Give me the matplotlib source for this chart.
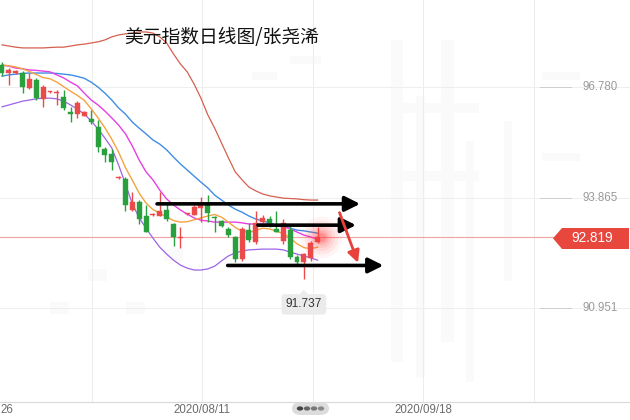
import matplotlib
matplotlib.use('Agg')
import matplotlib.pyplot as plt
from matplotlib.patches import Polygon, FancyBboxPatch, Rectangle
import numpy as np

plt.rcParams['font.family'] = ['Noto Sans CJK SC', 'DejaVu Sans']

# ---------------- data ----------------
opens  = [97.35, 97.15, 97.15, 97.15, 96.75, 96.96, 96.47, 96.64, 96.62, 96.52,
          96.12, 96.05, 96.02, 95.94, 95.73, 95.13, 95.02, 94.37, 94.36, 93.55,
          93.76, 93.37, 93.40, 93.39, 93.55, 93.16, 92.80, 93.43, 93.42, 93.60,
          93.68, 93.35, 93.24, 93.03, 92.82, 92.24, 93.00, 92.69, 93.22, 93.29,
          93.05, 92.72, 93.02, 92.30, 92.16, 92.27, 92.70]
closes = [97.15, 97.23, 97.20, 96.78, 96.99, 96.49, 96.78, 96.66, 96.63, 96.23,
          96.07, 96.36, 96.12, 95.84, 95.20, 94.99, 94.81, 94.40, 93.68, 93.76,
          93.29, 92.97, 93.42, 93.52, 93.29, 92.84, 92.84, 93.45, 93.63, 93.73,
          93.47, 93.33, 93.11, 92.87, 92.24, 93.05, 92.74, 93.20, 93.32, 93.15,
          92.97, 93.20, 92.30, 92.18, 92.37, 92.68, 92.819]
highs  = [97.42, 97.26, 97.22, 97.20, 97.15, 97.00, 96.82, 96.68, 96.70, 96.70,
          96.25, 96.41, 96.15, 96.18, 95.91, 95.20, 95.13, 94.42, 94.40, 94.02,
          93.80, 93.68, 93.45, 94.02, 93.76, 93.20, 93.10, 93.47, 93.66, 93.89,
          93.94, 93.37, 93.27, 93.08, 92.85, 93.10, 93.20, 93.50, 93.40, 93.39,
          93.50, 93.30, 93.15, 92.35, 92.40, 92.72, 93.08]
lows   = [97.05, 96.83, 97.12, 96.62, 96.72, 96.44, 96.25, 96.62, 96.30, 96.18,
          95.84, 95.97, 96.00, 95.80, 95.07, 94.81, 94.60, 94.36, 93.50, 93.50,
          93.16, 92.95, 93.38, 93.37, 93.24, 92.58, 92.55, 93.42, 93.40, 93.21,
          93.21, 92.95, 93.08, 92.84, 92.18, 92.20, 92.70, 92.65, 93.20, 93.10,
          92.95, 92.65, 92.25, 92.10, 91.737, 92.20, 92.68]

ma5 = [97.35, 97.33, 97.30, 97.25, 97.18, 97.10, 97.02, 96.99, 96.90, 96.78,
       96.66, 96.55, 96.42, 96.20, 95.96, 95.70, 95.40, 95.06, 94.65, 94.32,
       93.98, 93.72, 93.55, 93.45, 93.36, 93.26, 93.22, 93.23, 93.28, 93.33,
       93.38, 93.42, 93.35, 93.22, 93.08, 92.98, 92.95, 93.00, 93.06, 93.04,
       92.98, 92.92, 92.80, 92.65, 92.55, 92.52, 92.56]
ma10 = [97.35, 97.32, 97.27, 97.25, 97.22, 97.21, 97.19, 97.17, 97.09, 97.01,
        96.90, 96.80, 96.61, 96.43, 96.30, 96.14, 95.96, 95.77, 95.54, 95.22,
        94.85, 94.54, 94.33, 94.06, 93.83, 93.67, 93.54, 93.43, 93.33, 93.27,
        93.25, 93.22, 93.22, 93.22, 93.22, 93.20, 93.17, 93.17, 93.17, 93.17,
        93.14, 93.12, 93.04, 92.96, 92.88, 92.83, 92.77]
mid20 = [97.06, 97.09, 97.11, 97.13, 97.14, 97.14, 97.14, 97.14, 97.13, 97.11,
         97.09, 97.05, 97.00, 96.90, 96.77, 96.61, 96.43, 96.22, 96.06, 95.85,
         95.69, 95.54, 95.38, 95.27, 95.12, 94.93, 94.75, 94.59, 94.43, 94.27,
         94.12, 93.93, 93.80, 93.67, 93.56, 93.48, 93.38, 93.30, 93.25, 93.20,
         93.14, 93.09, 93.06, 93.01, 92.99, 92.96, 92.93]
upper = [97.88, 97.85, 97.82, 97.80, 97.80, 97.80, 97.80, 97.81, 97.82, 97.82,
         97.85, 97.88, 97.90, 97.93, 97.96, 98.01, 98.09, 98.14, 98.17, 98.19,
         98.22, 98.22, 98.19, 98.09, 97.93, 97.64, 97.38, 97.17, 96.85, 96.48,
         96.04, 95.69, 95.30, 94.91, 94.54, 94.33, 94.14, 94.04, 93.96, 93.91,
         93.88, 93.85, 93.84, 93.83, 93.81, 93.80, 93.80]
lower = [96.25, 96.30, 96.35, 96.40, 96.43, 96.46, 96.48, 96.48, 96.46, 96.40,
         96.30, 96.19, 96.06, 95.88, 95.67, 95.43, 95.17, 94.72, 94.22, 93.70,
         93.33, 93.06, 92.80, 92.56, 92.38, 92.22, 92.09, 92.01, 91.96, 91.96,
         91.99, 92.06, 92.20, 92.33, 92.41, 92.46, 92.49, 92.50, 92.51, 92.51,
         92.51, 92.49, 92.43, 92.38, 92.33, 92.28, 92.22]

price_levels = [96.780, 93.865, 90.951]
last_price = 92.819
low_price = 91.737
low_index = 44

# first label is cut by the left edge in the original: only "26" shows
date_pos = [-0.2, 29.15, 61.4]
date_labels = ['26', '2020/08/11', '2020/09/18']
vgrid_pos = [-3, 13.1, 29.15, 45.3, 61.4, 77.5]

title = '美元指数日线图/张尧浠'

# annotation arrows (index, price)
black_arrows = [((22.6, 93.70), (52.2, 93.70)),
                ((37.3, 93.14), (51.6, 93.14)),
                ((32.9, 92.08), (55.6, 92.08))]
red_arrow = ((49.2, 93.47), (51.9, 92.15))

# ---------------- figure ----------------
W, H = 630, 420
fig = plt.figure(figsize=(W / 100, H / 100), dpi=100)
fig.patch.set_facecolor('white')
ax = fig.add_axes([0, 1 - 402 / H, 1, 402 / H])
ax.set_facecolor('white')
ax.set_xlim(-0.2915, 91.545)
ax.set_ylim(88.49, 99.06)
for s in ['top', 'left', 'right']:
    ax.spines[s].set_visible(False)
ax.spines['bottom'].set_color('#d9d9d9')
ax.spines['bottom'].set_linewidth(0.8)
ax.set_xticks([])
ax.set_yticks([])

# faint watermark blocks (background texture)
wm = [(0.62, 0.10, 0.02, 0.80), (0.66, 0.06, 0.015, 0.70), (0.70, 0.15, 0.02, 0.75),
      (0.74, 0.05, 0.012, 0.60), (0.64, 0.55, 0.12, 0.025), (0.64, 0.72, 0.12, 0.025),
      (0.86, 0.60, 0.06, 0.02), (0.86, 0.80, 0.06, 0.02), (0.40, 0.80, 0.04, 0.02),
      (0.46, 0.84, 0.05, 0.02), (0.08, 0.22, 0.03, 0.03), (0.14, 0.30, 0.03, 0.03),
      (0.20, 0.22, 0.03, 0.03), (0.26, 0.35, 0.03, 0.03), (0.80, 0.30, 0.012, 0.40)]
for (rx, ry, rw, rh) in wm:
    ax.add_patch(Rectangle((rx, ry), rw, rh, transform=ax.transAxes,
                           fc='#fafafa', ec='none', zorder=0))

# grid
for xv in vgrid_pos:
    ax.axvline(xv, color='#ececec', lw=0.7, zorder=0.5)
for lv in price_levels:
    ax.axhline(lv, color='#eeeeee', lw=0.7, zorder=0.5)
    ax.plot([78.4, 83.0], [lv, lv], color='#cfcfcf', lw=0.7, zorder=1)
    ax.text(0.924, lv, f'{lv:.3f}', transform=ax.get_yaxis_transform(),
            ha='left', va='center', fontsize=8.3, color='#9a9a9a',
            family=['Liberation Sans', 'DejaVu Sans'])

# current price line
ax.plot([-1, 80.3], [last_price, last_price], color='#f2a3a3', lw=0.8, zorder=1)

# indicator lines
x = np.arange(len(closes))
ax.plot(x, upper, color='#d4604e', lw=0.9, zorder=2)
ax.plot(x, lower, color='#9e63e6', lw=0.9, zorder=2)
ax.plot(x, mid20, color='#3f8de6', lw=1.0, zorder=2)
ax.plot(x, ma10, color='#e63fe3', lw=1.0, zorder=2)
ax.plot(x, ma5, color='#f4a340', lw=1.0, zorder=2)

# candles
up_c, dn_c = '#eb4a4a', '#2a9f3e'
bw = 0.72
for i in range(len(closes)):
    o, c, h, l = opens[i], closes[i], highs[i], lows[i]
    col = up_c if c >= o else dn_c
    ax.plot([i, i], [l, h], color=col, lw=1.0, zorder=3, solid_capstyle='butt')
    bot, top = min(o, c), max(o, c)
    ax.bar(i, max(top - bot, 0.03), bottom=bot, width=bw, color=col,
           edgecolor=col, linewidth=0.3, zorder=4)

# glow at last price
for s_, a_ in [(900, 0.05), (600, 0.07), (380, 0.09), (220, 0.12), (110, 0.16), (45, 0.25)]:
    ax.scatter([len(closes) - 1 + 0.5], [last_price], s=s_, color='#ff3b3b',
               alpha=a_, lw=0, zorder=5)

# arrows
for (x0, y0), (x1, y1) in black_arrows:
    ax.annotate('', xy=(x1, y1), xytext=(x0, y0),
                arrowprops=dict(arrowstyle='-|>,head_length=0.9,head_width=0.45',
                                lw=2.6, color='black', shrinkA=0, shrinkB=0,
                                mutation_scale=10), zorder=6)
ax.annotate('', xy=red_arrow[1], xytext=red_arrow[0],
            arrowprops=dict(arrowstyle='-|>,head_length=0.8,head_width=0.4',
                            lw=2.0, color='#e8403a', shrinkA=0, shrinkB=0,
                            mutation_scale=9), zorder=6)

# low label
ax.annotate(f'{low_price:.3f}', xy=(low_index, low_price - 0.3),
            xytext=(low_index, low_price - 0.68), ha='center', va='center',
            fontsize=8.6, color='#333333', family=['Liberation Sans', 'DejaVu Sans'],
            bbox=dict(boxstyle='round,pad=0.35,rounding_size=0.25', fc='#ebebeb', ec='none'),
            arrowprops=dict(arrowstyle='wedge,tail_width=0.7', fc='#ebebeb', ec='none',
                            shrinkA=0, shrinkB=0), zorder=7)

# price tag on the right
tag = Polygon([[553 / W, 1 - 238.3 / H], [562 / W, 1 - 228 / H], [629 / W, 1 - 228 / H],
               [629 / W, 1 - 249 / H], [562 / W, 1 - 249 / H]],
              closed=True, transform=fig.transFigure, fc='#e8473e', ec='none', zorder=8)
fig.patches.append(tag)
fig.text(592 / W, 1 - 238.5 / H, f'{last_price:.3f}', ha='center', va='center',
         fontsize=9.8, color='white', family=['Liberation Sans', 'DejaVu Sans'],
         zorder=10)

# date labels
for k, (p, lab) in enumerate(zip(date_pos, date_labels)):
    px = 2 + 6.86 * p
    fig.text(px / W, 1 - 410 / H, lab, ha='left' if k == 0 else 'center', va='center',
             fontsize=8.3, color='#6b6b6b', family=['Liberation Sans', 'DejaVu Sans'])

# scroll indicator
pill = FancyBboxPatch((292 / W, 1 - 415 / H), 37 / W, 13 / H,
                      boxstyle='round,pad=0,rounding_size=0.015',
                      transform=fig.transFigure, fc='#dcdcdc', ec='none')
fig.patches.append(pill)
for dx_, c_ in zip([300, 307, 314, 321], ['#444444', '#666666', '#777777', '#888888']):
    fig.patches.append(plt.Circle((dx_ / W, 1 - 408.5 / H), 3.2 / W,
                                  transform=fig.transFigure, fc=c_, ec='none'))

# title
fig.text(222 / W, 1 - 37 / H, title, ha='center', va='center', fontsize=13.5,
         color='#111111')

fig.savefig('out.png', dpi=100, facecolor='white')
